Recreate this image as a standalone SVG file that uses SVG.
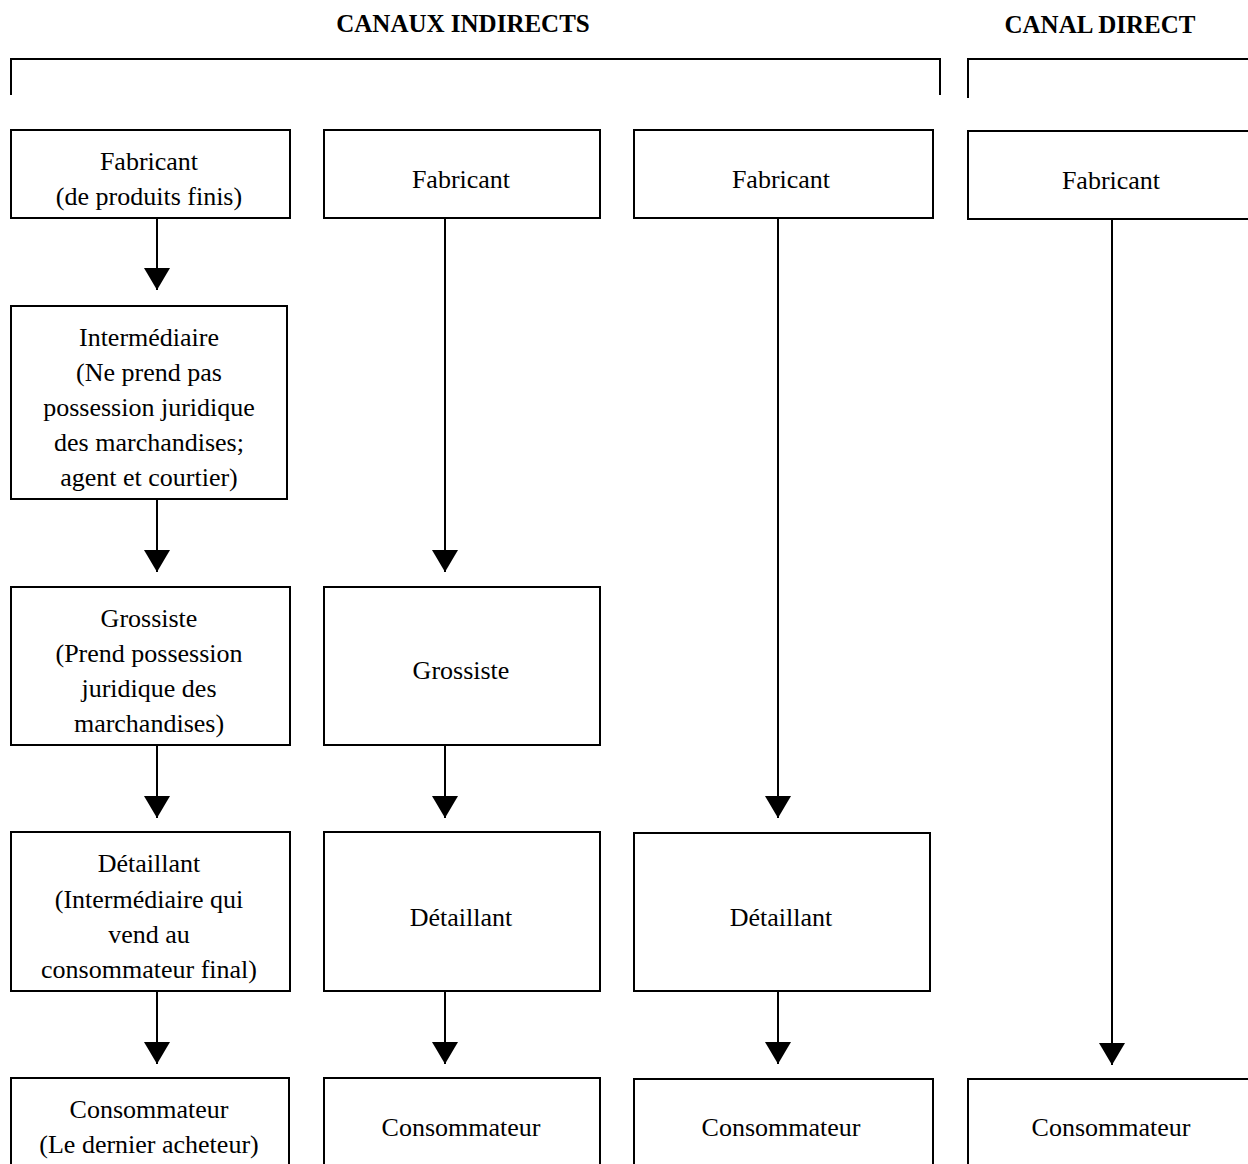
<svg xmlns="http://www.w3.org/2000/svg" width="1248" height="1164" viewBox="0 0 1248 1164">
<defs>
<style>
.box{fill:#fff;stroke:#000;stroke-width:2}
.t{font-family:"Liberation Serif","Times New Roman",serif;font-size:26px;text-anchor:middle;fill:#000}
.h{font-family:"Liberation Serif","Times New Roman",serif;font-size:25px;font-weight:bold;text-anchor:middle;fill:#000}
.ln{fill:none;stroke:#000;stroke-width:2}
</style>
<marker id="a" markerWidth="22" markerHeight="26" refX="22" refY="13" orient="auto" markerUnits="userSpaceOnUse" viewBox="0 0 22 26">
<path d="M0,0 L22,13 L0,26 Z" fill="#000"/>
</marker>
</defs>
<rect width="1248" height="1164" fill="#fff"/>
<g id="headers">
<text class="h" x="463" y="32">CANAUX INDIRECTS</text>
<text class="h" x="1100" y="33">CANAL DIRECT</text>
<path class="ln" d="M11,95 V59 H940 V95"/>
<path class="ln" d="M968,98 V59 H1260"/>
</g>
<g id="connectors">
<line class="ln" x1="157" y1="218" x2="157" y2="290" marker-end="url(#a)"/>
<line class="ln" x1="157" y1="499" x2="157" y2="572" marker-end="url(#a)"/>
<line class="ln" x1="157" y1="745" x2="157" y2="818" marker-end="url(#a)"/>
<line class="ln" x1="157" y1="991" x2="157" y2="1064" marker-end="url(#a)"/>
<line class="ln" x1="445" y1="218" x2="445" y2="572" marker-end="url(#a)"/>
<line class="ln" x1="445" y1="745" x2="445" y2="818" marker-end="url(#a)"/>
<line class="ln" x1="445" y1="991" x2="445" y2="1064" marker-end="url(#a)"/>
<line class="ln" x1="778" y1="218" x2="778" y2="818" marker-end="url(#a)"/>
<line class="ln" x1="778" y1="991" x2="778" y2="1064" marker-end="url(#a)"/>
<line class="ln" x1="1112" y1="219" x2="1112" y2="1065" marker-end="url(#a)"/>
</g>
<g id="fab1"><rect class="box" x="11" y="130" width="279" height="88"/>
<text class="t" x="149" y="170">Fabricant</text><text class="t" x="149" y="205">(de produits finis)</text></g>
<g id="inter1"><rect class="box" x="11" y="306" width="276" height="193"/>
<text class="t" x="149" y="346">Intermédiaire</text><text class="t" x="149" y="381">(Ne prend pas</text><text class="t" x="149" y="416">possession juridique</text><text class="t" x="149" y="451">des marchandises;</text><text class="t" x="149" y="486">agent et courtier)</text></g>
<g id="gros1"><rect class="box" x="11" y="587" width="279" height="158"/>
<text class="t" x="149" y="627">Grossiste</text><text class="t" x="149" y="662">(Prend possession</text><text class="t" x="149" y="697">juridique des</text><text class="t" x="149" y="732">marchandises)</text></g>
<g id="det1"><rect class="box" x="11" y="832" width="279" height="159"/>
<text class="t" x="149" y="872">Détaillant</text><text class="t" x="149" y="908">(Intermédiaire qui</text><text class="t" x="149" y="943">vend au</text><text class="t" x="149" y="978">consommateur final)</text></g>
<g id="cons1"><rect class="box" x="11" y="1078" width="278" height="110"/>
<text class="t" x="149" y="1118">Consommateur</text><text class="t" x="149" y="1153">(Le dernier acheteur)</text></g>
<g id="fab2"><rect class="box" x="324" y="130" width="276" height="88"/>
<text class="t" x="461" y="188">Fabricant</text></g>
<g id="gros2"><rect class="box" x="324" y="587" width="276" height="158"/>
<text class="t" x="461" y="679">Grossiste</text></g>
<g id="det2"><rect class="box" x="324" y="832" width="276" height="159"/>
<text class="t" x="461" y="926">Détaillant</text></g>
<g id="cons2"><rect class="box" x="324" y="1078" width="276" height="110"/>
<text class="t" x="461" y="1136">Consommateur</text></g>
<g id="fab3"><rect class="box" x="634" y="130" width="299" height="88"/>
<text class="t" x="781" y="188">Fabricant</text></g>
<g id="det3"><rect class="box" x="634" y="833" width="296" height="158"/>
<text class="t" x="781" y="926">Détaillant</text></g>
<g id="cons3"><rect class="box" x="634" y="1079" width="299" height="110"/>
<text class="t" x="781" y="1136">Consommateur</text></g>
<g id="fab4"><rect class="box" x="968" y="131" width="300" height="88"/>
<text class="t" x="1111" y="189">Fabricant</text></g>
<g id="cons4"><rect class="box" x="968" y="1079" width="300" height="110"/>
<text class="t" x="1111" y="1136">Consommateur</text></g>
</svg>
